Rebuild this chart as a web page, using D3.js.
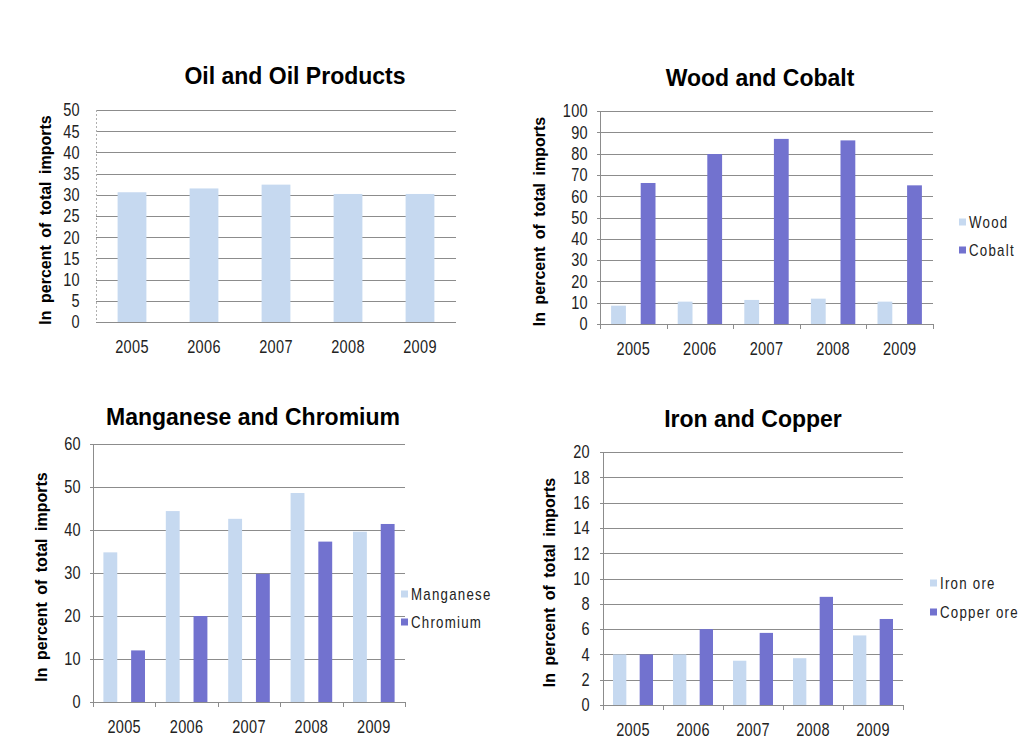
<!DOCTYPE html>
<html>
<head>
<meta charset="utf-8">
<script src="https://cdn.jsdelivr.net/npm/d3@7/dist/d3.min.js"></script>
<style>
  html, body { margin: 0; padding: 0; background: #ffffff; }
  svg { display: block; }
  .title { font-family: "Liberation Sans", Arial, sans-serif; font-weight: bold; font-size: 23px; fill: #000; }
  .ylabel { font-family: "Liberation Sans", Arial, sans-serif; font-weight: bold; font-size: 16px; fill: #000; word-spacing: 3px; }
  .tick-label { font-family: "Liberation Sans", Arial, sans-serif; font-size: 17.5px; fill: #222; letter-spacing: 0.4px; }
  .legend-label { font-family: "Liberation Sans", Arial, sans-serif; font-size: 16px; fill: #222; letter-spacing: 1.5px; }
</style>
</head>
<body>
<svg id="chart" width="1023" height="740"></svg>
<script>
// ---- data ----
const years = ["2005", "2006", "2007", "2008", "2009"];

const oilSeries = ["Oil and Oil Products"];
const oilValues = [30.6, 31.5, 32.4, 30.2, 30.2];
const oilTicks = [0, 5, 10, 15, 20, 25, 30, 35, 40, 45, 50];

const woodCobaltSeries = ["Wood", "Cobalt"];
const woodValues = [8.6, 10.5, 11.3, 11.9, 10.5];
const cobaltValues = [66.2, 79.8, 86.9, 86.2, 65.1];
const woodCobaltTicks = [0, 10, 20, 30, 40, 50, 60, 70, 80, 90, 100];

const mnCrSeries = ["Manganese", "Chromium"];
const manganeseValues = [34.8, 44.4, 42.6, 48.6, 39.6];
const chromiumValues = [12.0, 20.0, 29.8, 37.3, 41.4];
const mnCrTicks = [0, 10, 20, 30, 40, 50, 60];

const ironCopperSeries = ["Iron ore", "Copper ore"];
const ironValues = [4.0, 4.0, 3.5, 3.7, 5.5];
const copperValues = [4.0, 6.0, 5.7, 8.55, 6.8];
const ironCopperTicks = [0, 2, 4, 6, 8, 10, 12, 14, 16, 18, 20];

const yAxisTitle = "In percent of total imports";

// ---- styling ----
const lightFill = "#c6d9f0";
const darkFill = "#7272cf";
const gridColor = "#8c8c8c";
const narrow = 0.83; // horizontal squeeze for axis and legend text

const svg = d3.select("#chart");

function drawPanel(cfg) {
  const g = svg.append("g");
  const x = d3.scaleBand().domain(years).range([cfg.left, cfg.right]).padding(0);
  const y = d3.scaleLinear().domain([0, d3.max(cfg.ticks)]).range([cfg.bottom, cfg.top]);

  // series positions inside one year slot
  const inner = d3.scaleBand().domain(cfg.series).range([0, x.bandwidth()]);
  if (cfg.series.length === 1) inner.paddingInner(0).paddingOuter(0.75);
  else inner.paddingInner(0.5).paddingOuter(0.375);

  const colors = cfg.series.length === 1 ? [lightFill] : [lightFill, darkFill];

  // horizontal gridlines (with short outward ticks)
  const tickOut = cfg.yTicks ? 3 : 0;
  g.append("g").selectAll("line").data(cfg.ticks).join("line")
    .attr("x1", cfg.left - tickOut).attr("x2", cfg.right)
    .attr("y1", d => Math.round(y(d)) + 0.5).attr("y2", d => Math.round(y(d)) + 0.5)
    .attr("stroke", gridColor).attr("stroke-width", 1);

  // bars
  cfg.series.forEach((s, si) => {
    g.append("g").selectAll("rect").data(cfg.values[si]).join("rect")
      .attr("x", (d, i) => x(years[i]) + inner(s))
      .attr("width", inner.bandwidth())
      .attr("y", d => y(d))
      .attr("height", d => y(0) - y(d))
      .attr("fill", colors[si]);
  });

  // y axis line
  g.append("line")
    .attr("x1", cfg.left + 0.5).attr("x2", cfg.left + 0.5)
    .attr("y1", cfg.top).attr("y2", cfg.bottom)
    .attr("stroke", cfg.yTicks ? gridColor : "#b0b0b0")
    .attr("stroke-dasharray", cfg.yTicks ? null : "2,2");

  // baseline
  g.append("line")
    .attr("x1", cfg.left).attr("x2", cfg.right)
    .attr("y1", Math.round(y(0)) + 0.5).attr("y2", Math.round(y(0)) + 0.5)
    .attr("stroke", gridColor);

  // category boundary ticks
  if (cfg.xTicks) {
    const bounds = years.map(yr => x(yr)).concat([cfg.right]);
    g.append("g").selectAll("line").data(bounds).join("line")
      .attr("x1", d => Math.round(d) + 0.5).attr("x2", d => Math.round(d) + 0.5)
      .attr("y1", y(0)).attr("y2", y(0) + 5)
      .attr("stroke", gridColor);
  }

  // y tick labels
  g.append("g").selectAll("text").data(cfg.ticks).join("text")
    .attr("class", "tick-label")
    .attr("transform", d => `translate(${cfg.left - cfg.yLabelGap},${y(d)}) scale(${narrow},1)`)
    .attr("dy", "0.36em")
    .attr("text-anchor", "end")
    .text(d => d);

  // x tick labels
  g.append("g").selectAll("text").data(years).join("text")
    .attr("class", "tick-label")
    .attr("transform", d => `translate(${x(d) + x.bandwidth() / 2},${y(0) + 31}) scale(${narrow},1)`)
    .attr("text-anchor", "middle")
    .text(d => d);

  // title
  g.append("text").attr("class", "title")
    .attr("x", cfg.titleX).attr("y", cfg.titleY)
    .attr("text-anchor", "middle")
    .text(cfg.title);

  // y axis title
  g.append("text").attr("class", "ylabel")
    .attr("transform", `translate(${cfg.yTitleX},${(cfg.top + cfg.bottom) / 2 + 4}) rotate(-90)`)
    .attr("text-anchor", "middle")
    .text(yAxisTitle);

  // legend
  if (cfg.legend) {
    cfg.series.forEach((s, si) => {
      const cy = cfg.legend.y[si];
      g.append("rect")
        .attr("x", cfg.legend.x).attr("y", cy - 3.5)
        .attr("width", 7).attr("height", 7)
        .attr("fill", colors[si]);
      g.append("text").attr("class", "legend-label")
        .attr("transform", `translate(${cfg.legend.x + 10},${cy}) scale(${narrow},1)`)
        .attr("dy", "0.36em")
        .text(s);
    });
  }
}

drawPanel({
  title: "Oil and Oil Products", series: oilSeries, values: [oilValues], ticks: oilTicks,
  left: 96, right: 456, top: 110, bottom: 322,
  titleX: 295, titleY: 84, yTitleX: 51, yLabelGap: 16,
  xTicks: false, yTicks: false, legend: null
});

drawPanel({
  title: "Wood and Cobalt", series: woodCobaltSeries, values: [woodValues, cobaltValues], ticks: woodCobaltTicks,
  left: 600, right: 933, top: 111, bottom: 324,
  titleX: 760, titleY: 86, yTitleX: 545, yLabelGap: 12,
  xTicks: true, yTicks: true, legend: { x: 959, y: [222, 250] }
});

drawPanel({
  title: "Manganese and Chromium", series: mnCrSeries, values: [manganeseValues, chromiumValues], ticks: mnCrTicks,
  left: 93, right: 405, top: 444, bottom: 702,
  titleX: 253, titleY: 425, yTitleX: 46.5, yLabelGap: 12,
  xTicks: true, yTicks: true, legend: { x: 401, y: [594, 622] }
});

drawPanel({
  title: "Iron and Copper", series: ironCopperSeries, values: [ironValues, copperValues], ticks: ironCopperTicks,
  left: 603, right: 903, top: 452, bottom: 705,
  titleX: 753, titleY: 427, yTitleX: 555, yLabelGap: 13,
  xTicks: true, yTicks: true, legend: { x: 930, y: [583, 612] }
});
</script>
</body>
</html>
